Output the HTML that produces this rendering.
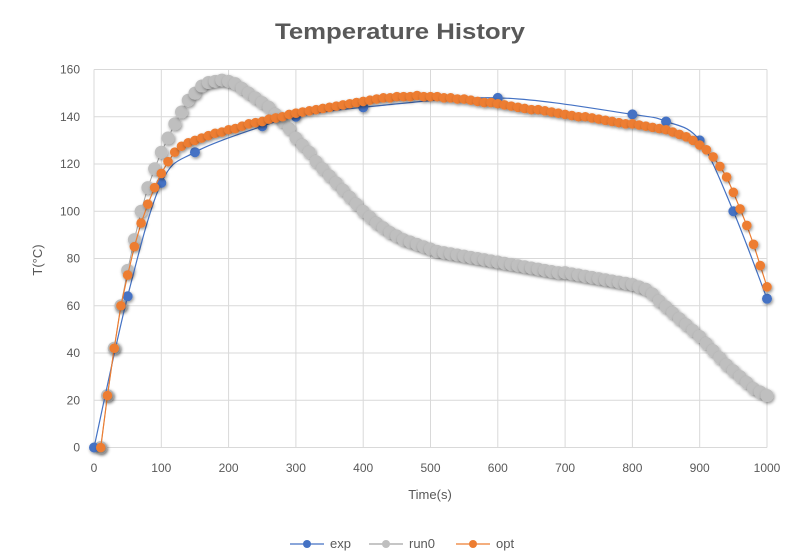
<!DOCTYPE html>
<html><head><meta charset="utf-8"><style>
body{margin:0;background:#fff;}
svg{display:block;font-family:"Liberation Sans",sans-serif;}
</style></head><body>
<svg id="chart" width="789" height="553">
<defs><filter id="sh" x="-50%" y="-50%" width="200%" height="200%"><feDropShadow dx="1" dy="1.5" stdDeviation="1.5" flood-color="#000" flood-opacity="0.45"/></filter></defs>
<text x="400" y="39" text-anchor="middle" font-size="22" font-weight="bold" fill="#595959" textLength="250" lengthAdjust="spacingAndGlyphs">Temperature History</text>
<text x="430" y="499" text-anchor="middle" font-size="13" fill="#595959">Time(s)</text>
<text transform="translate(42,260) rotate(-90)" text-anchor="middle" font-size="13" fill="#595959">T(°C)</text>
<g id="grid"></g><g id="series"></g><g id="legend"></g>
</svg>
<script>
const xTicks=[0,100,200,300,400,500,600,700,800,900,1000];
const yTicks=[0,20,40,60,80,100,120,140,160];
const expT=[0,50,100,150,250,300,400,600,800,850,900,950,1000];
const expV=[0,64,112,125,136,140,144,148,141,138,130,100,63];
const run0V=[0,22,42,60,75,88,100,110,118,125,131,137,142,147,150,153,154.5,155,155.5,155,154,152,150,148,146,144,141,138,135,131,128,125,121,118,115,112,109,106,103,100,97.5,95,93,91,89.5,88,87,86,85,84,83,82.5,82,81.5,81,80.5,80,79.5,79,78.5,78,77.5,77,76.5,76,75.5,75,74.5,74,74,73.5,73,72.5,72,71.5,71,70.5,70,69.5,69,68,67,65,62,59.5,57,54.5,52,49.5,47,44,41,38,35,32.5,30,27.5,25,23.5,22];
const optV=[0,22,42,60,73,85,95,103,110,116,121,125,127.5,129,130,131,132,133,133.5,134.5,135,136,137,137.5,138,139,139.5,140,141,141.5,142,142.5,143,143.5,144,144.5,145,145.5,146,146.5,147,147.5,148,148,148.5,148.5,148.5,149,148.5,148.5,148.5,148,148,147.5,147.5,147,146.5,146,146,145.5,145,144.5,144,143.5,143,143,142.5,142,141.5,141,140.5,140,140,139.5,139,138.5,138,137.5,137,137,136.5,136,135.5,135,134.5,133.5,132.5,131.5,130,128,126,123,119,114.5,108,101,94,86,77,68];
const X0=94,X1=767,Y0=447.5,Y1=69.5;
const sx=t=>X0+(t/1000)*(X1-X0);
const sy=v=>Y0-(v/160)*(Y0-Y1);
const NS="http://www.w3.org/2000/svg";
function mk(tag,attrs,parent){const e=document.createElementNS(NS,tag);for(const k in attrs)e.setAttribute(k,attrs[k]);parent.appendChild(e);return e;}
const grid=document.getElementById('grid'),ser=document.getElementById('series'),leg=document.getElementById('legend');
xTicks.forEach(t=>{const l=mk('line',{x1:sx(t),x2:sx(t),y1:Y1,y2:Y0,stroke:'#d9d9d9','stroke-width':1},grid);

const tx=mk('text',{x:sx(t),y:472,'text-anchor':'middle','font-size':12,fill:'#595959'},grid);tx.textContent=t;
});
yTicks.forEach(v=>{const l=mk('line',{x1:X0,x2:X1,y1:sy(v),y2:sy(v),stroke:'#d9d9d9','stroke-width':1},grid);

const tx=mk('text',{x:80,y:sy(v)+4,'text-anchor':'end','font-size':12,fill:'#595959'},grid);tx.textContent=v;
});
const runT=run0V.map((_,i)=>(i+1)*10);
const optT=optV.map((_,i)=>(i+1)*10);
const gl=mk('polyline',{points:runT.map((t,i)=>sx(t)+','+sy(run0V[i])).join(' '),fill:'none',stroke:'#a5a5a5','stroke-width':1},ser);

runT.forEach((t,i)=>{const c=mk('circle',{cx:sx(t),cy:sy(run0V[i]),r:6.5,fill:'#bfbfbf',filter:'url(#sh)'},ser);
});
let d='';const P=expT.map((t,i)=>[sx(t),sy(expV[i])]);
d='M'+P[0][0]+','+P[0][1];
for(let i=0;i<P.length-1;i++){const p0=P[Math.max(0,i-1)],p1=P[i],p2=P[i+1],p3=P[Math.min(P.length-1,i+2)];
const c1=[p1[0]+(p2[0]-p0[0])/6,p1[1]+(p2[1]-p0[1])/6],c2=[p2[0]-(p3[0]-p1[0])/6,p2[1]-(p3[1]-p1[1])/6];
d+=` C${c1[0]},${c1[1]} ${c2[0]},${c2[1]} ${p2[0]},${p2[1]}`;}
const el=mk('path',{d:d,fill:'none',stroke:'#4472c4','stroke-width':1.2},ser);

P.forEach(p=>{const c=mk('circle',{cx:p[0],cy:p[1],r:5,fill:'#4472c4',filter:'url(#sh)'},ser);
});
const ol=mk('polyline',{points:optT.map((t,i)=>sx(t)+','+sy(optV[i])).join(' '),fill:'none',stroke:'#ed7d31','stroke-width':1.2},ser);

optT.forEach((t,i)=>{const c=mk('circle',{cx:sx(t),cy:sy(optV[i]),r:4.8,fill:'#ed7d31',filter:'url(#sh)'},ser);
});
[['exp','#4472c4',290],['run0','#bfbfbf',369],['opt','#ed7d31',456]].forEach(([n,c,x])=>{
const g=mk('g',{},leg);
mk('line',{x1:x,x2:x+34,y1:544,y2:544,stroke:c==='#bfbfbf'?'#a5a5a5':c,'stroke-width':1.2},g);
mk('circle',{cx:x+17,cy:544,r:4,fill:c},g);
const t=mk('text',{x:x+40,y:548,'font-size':13,fill:'#595959'},g);t.textContent=n;});
</script>
</body></html>
